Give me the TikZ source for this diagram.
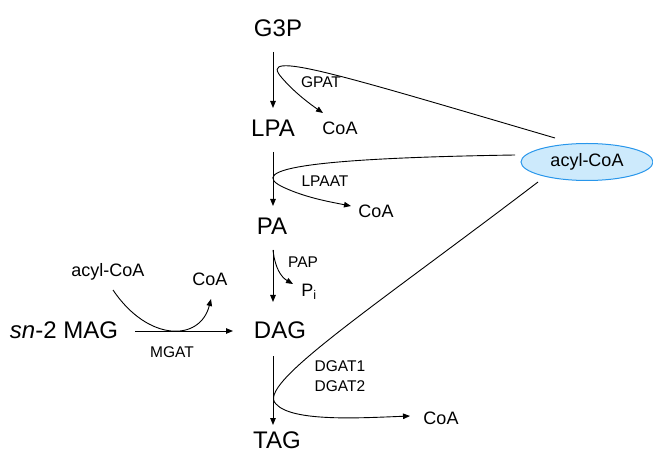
\documentclass[tikz,border=0pt]{standalone}
\usepackage{fontspec}
\setmainfont{Liberation Sans}
\usetikzlibrary{arrows.meta,shapes.geometric}
\begin{document}
\begin{tikzpicture}[x=1pt,y=-1pt,
  big/.style={font=\fontsize{24}{26}\selectfont, inner sep=0pt},
  mid/.style={font=\fontsize{18}{20}\selectfont, inner sep=0pt},
  small/.style={font=\fontsize{15.5}{17}\selectfont, inner sep=0pt},
  arr/.style={line width=0.9pt, -{Triangle[length=7pt,width=5.5pt]}},
  ln/.style={line width=0.9pt}]
\useasboundingbox (0,0) rectangle (653,454);
% main metabolites
\node[big] (g3p) at (278,28) {G3P};
\node[big] (lpa) at (273,128) {LPA};
\node[big] (pa)  at (272,226) {PA};
\node[big] (dag) at (280,330) {DAG};
\node[big] (tag) at (277,440) {TAG};
\node[big] (mag) at (64,330) {\itshape sn\upshape-2 MAG};
% side products
\node[mid] (coa1) at (340,128) {CoA};
\node[mid] (coa2) at (376,211) {CoA};
\node[mid] (pi)   at (309,292) {P\textsubscript{i}};
\node[mid] (coa3) at (441,418) {CoA};
\node[mid] (coa4) at (210,279) {CoA};
\node[mid] (acl)  at (108,272) {acyl-CoA};
% enzymes
\node[small] (gpat)  at (321,82) {GPAT};
\node[small] (lpaat) at (325,181) {LPAAT};
\node[small] (pap)   at (303,262) {PAP};
\node[small] (dgat1) at (340,366) {DGAT1};
\node[small] (dgat2) at (340,386) {DGAT2};
\node[small] (mgat)  at (172,352) {MGAT};
% acyl-CoA ellipse
\node[ellipse, draw={rgb,255:red,40;green,150;blue,235}, line width=1pt,
      fill={rgb,255:red,205;green,234;blue,252},
      minimum width=132pt, minimum height=37pt, inner sep=0pt,
      font=\fontsize{18}{20}\selectfont] (ac) at (587,162) {acyl-CoA};
% coordinates
\coordinate (a1) at (273,52);  \coordinate (b1) at (273,108);
\coordinate (a2) at (273,152); \coordinate (b2) at (273,206);
\coordinate (a3) at (273,250); \coordinate (b3) at (273,302);
\coordinate (a4) at (273,356); \coordinate (b4) at (273,425);
\coordinate (m1) at (135,331); \coordinate (m2) at (233,331);
\coordinate (s1) at (555,138); \coordinate (e1) at (323,113);
\coordinate (s2) at (515,155); \coordinate (e2) at (351,206);
\coordinate (e3) at (293,284);
\coordinate (s4) at (538,182); \coordinate (e4) at (410,416);
\coordinate (s5) at (113,290); \coordinate (e5) at (211,299);
% main arrows
\draw[arr] (a1) -- (b1);
\draw[arr] (a2) -- (b2);
\draw[arr] (a3) -- (b3);
\draw[arr] (a4) -- (b4);
\draw[arr] (m1) -- (m2);
% acyl transfer curves
\draw[arr] (s1) .. controls (340,75) and (255,48) .. (282,78) .. controls (295,93) and (310,104) .. (e1);
\draw[arr] (s2) .. controls (320,158) and (240,168) .. (285,188) .. controls (305,197) and (325,201) .. (e2);
\draw[arr] (a3) .. controls (275,268) and (281,277) .. (e3);
\draw[arr] (s4) .. controls (370,310) and (255,385) .. (276,404) .. controls (292,422) and (360,418) .. (e4);
\draw[arr] (s5) .. controls (148,342) and (200,342) .. (e5);
\end{tikzpicture}
\end{document}
